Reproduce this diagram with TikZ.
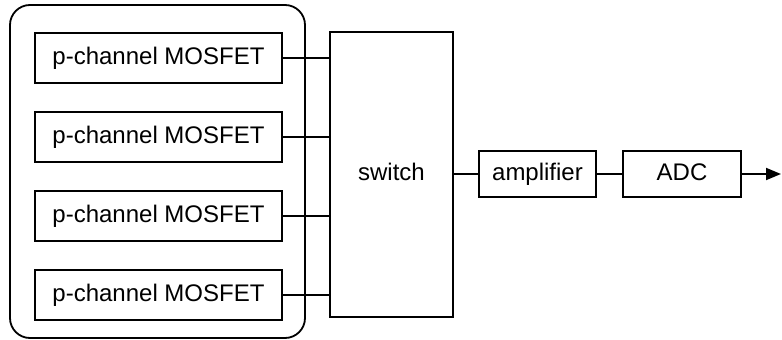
\documentclass[tikz,border=0pt]{standalone}
\usepackage{fontspec}
\setmainfont{Liberation Sans}
\usetikzlibrary{arrows.meta}
\begin{document}
\begin{tikzpicture}[x=1pt,y=-1pt,
  blk/.style={draw,line width=1.8pt,inner sep=0pt,text height=17pt,text depth=5pt,font=\fontsize{24}{28}\selectfont},
  wire/.style={line width=1.8pt}]
\useasboundingbox (0,0) rectangle (782,340);
\node[draw,line width=1.8pt,rounded corners=20pt,minimum width=295pt,minimum height=333pt,inner sep=0pt] (grp) at (157.5,171.5) {};
\node[blk,minimum width=247pt,minimum height=50pt] (m1) at (158.5,58) {p-channel MOSFET};
\node[blk,minimum width=247pt,minimum height=50pt] (m2) at (158.5,137) {p-channel MOSFET};
\node[blk,minimum width=247pt,minimum height=50pt] (m3) at (158.5,216) {p-channel MOSFET};
\node[blk,minimum width=247pt,minimum height=50pt] (m4) at (158.5,295) {p-channel MOSFET};
\node[blk,minimum width=123pt,minimum height=285pt] (sw) at (391.5,174.5) {switch};
\node[blk,minimum width=117pt,minimum height=46pt] (amp) at (537.5,174) {amplifier};
\node[blk,minimum width=118pt,minimum height=46pt] (adc) at (682,174) {ADC};
\coordinate (out) at (781,174);
\foreach \m in {m1,m2,m3,m4} \draw[wire] (\m.east) -- (\m.east -| sw.west);
\draw[wire] (sw.east |- amp.west) -- (amp.west);
\draw[wire] (amp.east) -- (adc.west);
\draw[wire,-{Triangle[length=15pt,width=12pt]}] (adc.east) -- (out);
\end{tikzpicture}
\end{document}
